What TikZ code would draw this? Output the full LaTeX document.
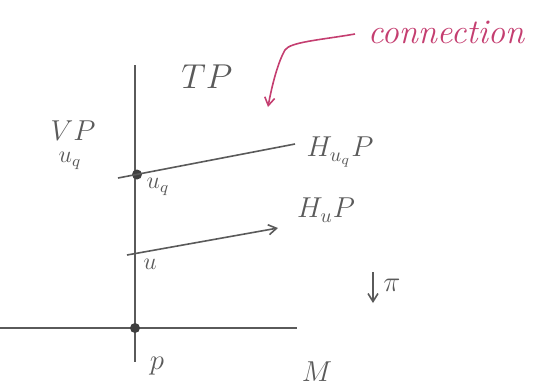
\documentclass[tikz,border=0pt]{standalone}
\usetikzlibrary{arrows.meta}
\definecolor{pencil}{RGB}{90,90,90}
\definecolor{ink}{RGB}{196,62,112}

\begin{document}
\begin{tikzpicture}[
        x=0.5pt, y=-0.5pt,
        line/.style={draw=pencil, line width=0.8pt},
        dot/.style={circle, fill=pencil!70!black, inner sep=0pt, minimum size=5pt},
        lbl/.style={text=pencil, inner sep=1pt},
        note/.style={text=ink, font=\LARGE\itshape, inner sep=1pt},
        arrow/.style={-{Straight Barb[length=4pt, width=5pt]}, line width=0.8pt}
    ]
    \useasboundingbox (0,0) rectangle (536,388);

    % fibre and base
    \coordinate (FibTop) at (135,65);
    \coordinate (FibBot) at (135,362);
    \coordinate (BaseL) at (0,328);
    \coordinate (BaseR) at (297,328);
    \draw[line] (FibTop) -- (FibBot);
    \draw[line] (BaseL) -- (BaseR);

    % points on the fibre
    \node[dot] (Uq) at (137,174.5) {};
    \node[dot] (P) at (135,328) {};
    \coordinate (U) at (134,253.7);

    % horizontal spaces
    \coordinate (HuqL) at (118,178);
    \coordinate (HuqR) at (295,144);
    \coordinate (HuL) at (127,255);
    \coordinate (HuR) at (278,228);
    \draw[line] (HuqL) -- (HuqR);
    \draw[line, arrow] (HuL) -- (HuR);

    % labels
    \node[lbl, font=\LARGE] (TP) at (207,77) {$TP$};
    \node[lbl, font=\Large] (VP) at (73,131) {$VP$};
    \node[lbl, font=\large] (VPsub) at (70,161) {$u_q$};
    \node[lbl, font=\large] (UqLbl) at (158,187) {$u_q$};
    \node[lbl, font=\large] (ULbl) at (150,264) {$u$};
    \node[lbl, font=\Large] (PLbl) at (157,366) {$p$};
    \node[lbl, font=\Large] (MLbl) at (317,372) {$M$};
    \node[lbl, font=\Large] (HuqLbl) at (340,152) {$H_{u_q}P$};
    \node[lbl, font=\Large] (HuLbl) at (326,210) {$H_uP$};

    % projection
    \coordinate (PiTop) at (373,272);
    \coordinate (PiBot) at (373,303);
    \draw[line, arrow] (PiTop) -- (PiBot);
    \node[lbl, font=\Large] (PiLbl) at (392,285) {$\pi$};

    % annotation
    \node[note] (Conn) at (446,32) {connection};
    \coordinate (ConnTip) at (268,107);
    \draw[ink, arrow] (355,34) .. controls (320,40) and (290,42) .. (285,50)
        .. controls (278,62) and (272,85) .. (ConnTip);

\end{tikzpicture}
\end{document}
